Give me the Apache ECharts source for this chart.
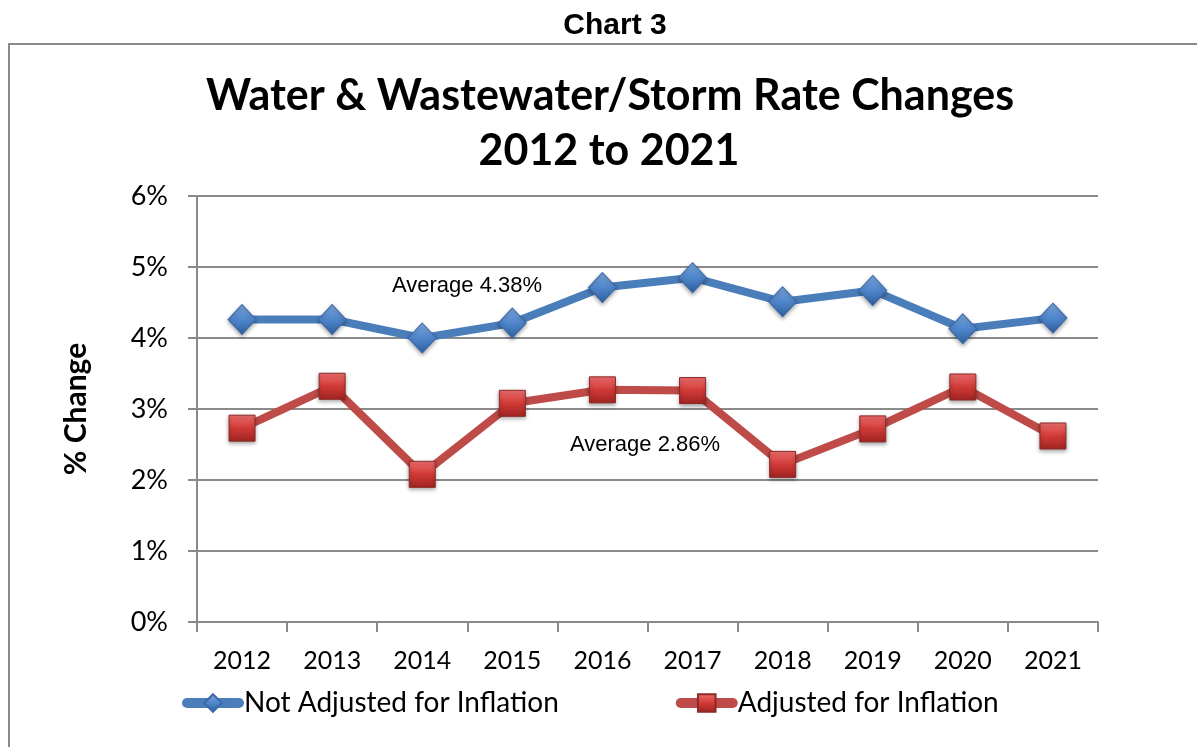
<!DOCTYPE html>
<html><head><meta charset="utf-8">
<script src="https://cdn.jsdelivr.net/npm/echarts@6/dist/echarts.min.js"></script>
<style>html,body{margin:0;padding:0;background:#fff}#c{width:1197px;height:747px}</style>
</head><body><div id="c"></div>
<script>
const years = ['2012','2013','2014','2015','2016','2017','2018','2019','2020','2021'];
const notAdjusted = [4.26, 4.26, 4.00, 4.21, 4.71, 4.85, 4.51, 4.67, 4.13, 4.28];
const adjusted = [2.73, 3.32, 2.08, 3.08, 3.27, 3.26, 2.22, 2.72, 3.31, 2.62];
const yTicks = [0, 1, 2, 3, 4, 5, 6];
const seriesNames = ['Not Adjusted for Inflation', 'Adjusted for Inflation'];
const notes = ['Average 4.38%', 'Average 2.86%'];
const titleLines = ['Water & Wastewater/Storm Rate Changes', '2012 to 2021'];

const F = 'Lato, "Open Sans", sans-serif';
const chart = echarts.init(document.getElementById('c'));
const blueMarker = new echarts.graphic.LinearGradient(0,0,0,1,[{offset:0,color:'#7fa9e0'},{offset:0.5,color:'#4f86cc'},{offset:1,color:'#2f5f9e'}]);
const redMarker = new echarts.graphic.LinearGradient(0,0,0,1,[{offset:0,color:'#f07070'},{offset:0.5,color:'#d03a36'},{offset:1,color:'#a02422'}]);
chart.setOption({
  animation:false,
  graphic:[
    {type:'rect',shape:{x:9,y:44,width:1200,height:720},style:{fill:'none',stroke:'#8a8a8a',lineWidth:2}},
    {type:'text',x:615,y:26,style:{text:'Chart 3',font:'bold 30px "Liberation Sans", Arial',fill:'#000',textAlign:'center',textVerticalAlign:'middle'}},
    {type:'text',x:610,y:96,style:{text:titleLines[0],font:'bold 43px '+F,fill:'#000',textAlign:'center',textVerticalAlign:'middle'}},
    {type:'text',x:609,y:151,style:{text:titleLines[1],font:'bold 43px '+F,fill:'#000',textAlign:'center',textVerticalAlign:'middle'}},
    {type:'text',x:467,y:286,style:{text:notes[0],font:'22px "Liberation Sans", Arial',fill:'#000',textAlign:'center',textVerticalAlign:'middle'}},
    {type:'text',x:645,y:445,style:{text:notes[1],font:'22px "Liberation Sans", Arial',fill:'#000',textAlign:'center',textVerticalAlign:'middle'}}
  ],
  grid:{left:197,right:99,top:196,bottom:125},
  legend:{
    left:177, top:684, itemWidth:52, itemHeight:22, itemGap:117,
    lineStyle:{width:10,cap:'round'},
    textStyle:{fontFamily:F,fontSize:28,color:'#000'},
    data:seriesNames
  },
  xAxis:{
    type:'category', data:years, boundaryGap:true,
    axisLine:{lineStyle:{color:'#8a8a8a',width:2}},
    axisTick:{show:true,length:10,lineStyle:{color:'#8a8a8a',width:2}},
    axisLabel:{fontFamily:F,fontSize:25,color:'#000',margin:26}
  },
  yAxis:{
    type:'value', min:yTicks[0], max:yTicks[yTicks.length-1], interval:1,
    name:'% Change', nameLocation:'middle', nameGap:106, nameRotate:90,
    nameTextStyle:{fontFamily:F,fontSize:30,fontWeight:'bold',color:'#000'},
    axisLine:{show:true,lineStyle:{color:'#8a8a8a',width:2}},
    axisTick:{show:true,length:9,lineStyle:{color:'#8a8a8a',width:2}},
    splitLine:{lineStyle:{color:'#8a8a8a',width:2}},
    axisLabel:{fontFamily:F,fontSize:27,color:'#000',margin:29,formatter:'{value}%'}
  },
  series:[
    {name:seriesNames[0],type:'line',data:notAdjusted,symbol:'diamond',symbolSize:[28,30],
     lineStyle:{color:'#4a7ebb',width:8},
     itemStyle:{color:blueMarker,borderColor:'#3a6aa8',borderWidth:1,shadowBlur:4,shadowColor:'rgba(0,0,0,0.35)',shadowOffsetY:2}},
    {name:seriesNames[1],type:'line',data:adjusted,symbol:'rect',symbolSize:26,
     lineStyle:{color:'#be4b48',width:8},
     itemStyle:{color:redMarker,borderColor:'#8c2a28',borderWidth:1,shadowBlur:4,shadowColor:'rgba(0,0,0,0.35)',shadowOffsetY:2}}
  ]
});
</script></body></html>
